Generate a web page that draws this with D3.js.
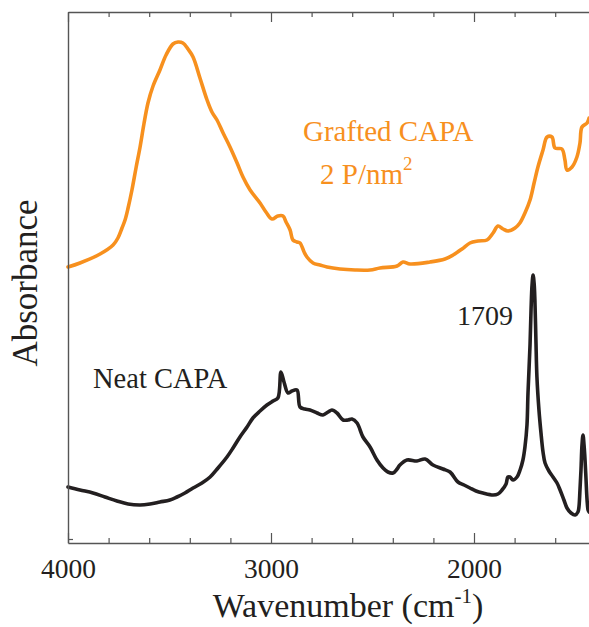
<!DOCTYPE html>
<html>
<head>
<meta charset="utf-8">
<script src="https://cdn.jsdelivr.net/npm/d3@7"></script>
<style>
  html, body { margin: 0; padding: 0; background: #fff; }
  svg { display: block; }
  svg text { font-family: "Liberation Serif", "Times New Roman", "DejaVu Serif", serif; }
</style>
</head>
<body>
<svg id="chart" width="589" height="627"></svg>
<script>
// ---- Data (wavenumber in cm^-1, absorbance in arbitrary units, offset spectra) ----
const graftedWavenumber = [4000, 3941, 3842, 3778, 3754, 3734, 3719, 3704, 3685, 3665, 3645, 3626, 3606, 3581, 3547, 3517, 3483, 3458, 3434, 3409, 3384, 3350, 3315, 3291, 3266, 3236, 3202, 3167, 3138, 3103, 3054, 3025, 2995, 2966, 2941, 2926, 2906, 2892, 2872, 2857, 2837, 2823, 2793, 2759, 2724, 2660, 2586, 2512, 2463, 2379, 2350, 2315, 2217, 2143, 2103, 2059, 2020, 1980, 1936, 1906, 1882, 1857, 1833, 1798, 1774, 1749, 1724, 1704, 1685, 1660, 1640, 1616, 1601, 1567, 1552, 1542, 1517, 1493, 1478, 1468, 1443, 1433];
const graftedAbsorbance = [2.76, 2.80, 2.89, 2.98, 3.05, 3.15, 3.23, 3.35, 3.53, 3.75, 3.96, 4.19, 4.40, 4.57, 4.73, 4.88, 4.99, 5.01, 5.00, 4.94, 4.86, 4.65, 4.43, 4.31, 4.23, 4.10, 3.96, 3.80, 3.66, 3.53, 3.40, 3.31, 3.24, 3.27, 3.27, 3.21, 3.13, 3.03, 3.01, 3.00, 2.91, 2.86, 2.80, 2.78, 2.76, 2.74, 2.73, 2.73, 2.75, 2.77, 2.81, 2.79, 2.81, 2.84, 2.88, 2.94, 3.00, 3.02, 3.03, 3.10, 3.17, 3.14, 3.12, 3.15, 3.20, 3.30, 3.43, 3.60, 3.76, 3.93, 4.06, 4.06, 3.95, 3.94, 3.83, 3.73, 3.76, 3.86, 4.00, 4.16, 4.20, 4.25];

const neatWavenumber = [4000, 3941, 3877, 3818, 3759, 3704, 3645, 3596, 3547, 3498, 3463, 3424, 3384, 3340, 3300, 3261, 3217, 3187, 3153, 3118, 3089, 3054, 3020, 2990, 2966, 2951, 2936, 2916, 2897, 2872, 2857, 2833, 2808, 2773, 2744, 2719, 2700, 2675, 2645, 2621, 2601, 2576, 2547, 2512, 2478, 2448, 2424, 2399, 2379, 2365, 2330, 2281, 2241, 2202, 2153, 2118, 2079, 2049, 2020, 1990, 1956, 1906, 1882, 1862, 1842, 1833, 1823, 1808, 1788, 1773, 1759, 1749, 1739, 1734, 1724, 1719, 1714, 1709, 1704, 1700, 1695, 1690, 1680, 1670, 1660, 1650, 1631, 1611, 1591, 1576, 1557, 1542, 1522, 1502, 1488, 1483, 1478, 1473, 1468, 1463, 1458, 1453, 1448, 1443, 1438, 1433];
const neatAbsorbance = [0.56, 0.53, 0.50, 0.46, 0.42, 0.39, 0.38, 0.39, 0.41, 0.43, 0.46, 0.50, 0.55, 0.60, 0.66, 0.75, 0.86, 0.95, 1.06, 1.16, 1.25, 1.32, 1.38, 1.42, 1.45, 1.71, 1.61, 1.50, 1.52, 1.53, 1.36, 1.34, 1.33, 1.30, 1.28, 1.31, 1.33, 1.30, 1.23, 1.23, 1.24, 1.20, 1.06, 0.96, 0.83, 0.75, 0.71, 0.70, 0.74, 0.78, 0.83, 0.82, 0.84, 0.78, 0.74, 0.71, 0.61, 0.58, 0.55, 0.52, 0.50, 0.48, 0.49, 0.53, 0.59, 0.66, 0.66, 0.63, 0.66, 0.73, 0.83, 0.96, 1.18, 1.50, 1.98, 2.33, 2.58, 2.68, 2.60, 2.43, 2.03, 1.66, 1.33, 1.10, 0.91, 0.80, 0.72, 0.66, 0.60, 0.53, 0.43, 0.35, 0.30, 0.28, 0.31, 0.36, 0.53, 0.73, 0.98, 1.08, 0.98, 0.83, 0.63, 0.43, 0.33, 0.31];

const majorTicks = [4000, 3000, 2000];
const minorTicks = [3800, 3600, 3400, 3200, 2800, 2600, 2400, 2200, 1800, 1600];
const majorTickLabels = ["4000", "3000", "2000"];

(function () {
  // ---- Layout ----
  const plotLeft = 68, plotTop = 12, plotBottom = 543;
  const pxPerUnit = 0.203;
  const x = d3.scaleLinear().domain([4000, 1400]).range([plotLeft, plotLeft + 2600 * pxPerUnit]);
  const y = d3.scaleLinear().domain([0, 5.31]).range([plotBottom, plotTop]);

  const svg = d3.select("#chart");
  const axisColor = "#555555";
  const serif = "'Liberation Serif', 'Times New Roman', serif";

  // Curves
  const line = d3.line().x(d => x(d[0])).y(d => y(d[1])).curve(d3.curveCatmullRom.alpha(0.5));
  const neat = neatWavenumber.map((w, i) => [w, neatAbsorbance[i]]);
  const grafted = graftedWavenumber.map((w, i) => [w, graftedAbsorbance[i]]);

  svg.append("path").datum(grafted)
    .attr("d", line).attr("fill", "none")
    .attr("stroke", "#F7901E").attr("stroke-width", 3.6)
    .attr("stroke-linejoin", "round").attr("stroke-linecap", "round");

  svg.append("path").datum(neat)
    .attr("d", line).attr("fill", "none")
    .attr("stroke", "#231F20").attr("stroke-width", 3.6)
    .attr("stroke-linejoin", "round").attr("stroke-linecap", "round");

  // Bottom axis: major ticks with labels
  const gBottom = svg.append("g").attr("transform", `translate(0,${plotBottom})`);
  gBottom.call(d3.axisBottom(x).tickValues(majorTicks)
    .tickFormat((d, i) => majorTickLabels[i]).tickSizeInner(-10).tickSizeOuter(0).tickPadding(15));
  gBottom.attr("font-family", serif);
  gBottom.append("g").call(d3.axisBottom(x).tickValues(minorTicks).tickFormat("").tickSizeInner(-5).tickSizeOuter(0))
    .select(".domain").remove();
  gBottom.selectAll("path.domain").attr("stroke", axisColor).attr("stroke-width", 1.4);
  gBottom.selectAll("line").attr("stroke", axisColor).attr("stroke-width", 1.2);
  gBottom.selectAll("text").attr("font-size", 27.5).attr("fill", "#231F20")
    .attr("font-family", serif);

  // Top border with inward ticks
  const gTop = svg.append("g").attr("transform", `translate(0,${plotTop})`);
  gTop.call(d3.axisTop(x).tickValues(majorTicks).tickFormat("").tickSizeInner(-10).tickSizeOuter(0));
  gTop.append("g").call(d3.axisTop(x).tickValues(minorTicks).tickFormat("").tickSizeInner(-5).tickSizeOuter(0))
    .select(".domain").remove();
  gTop.selectAll("path.domain").attr("stroke", axisColor).attr("stroke-width", 1.4);
  gTop.selectAll("line").attr("stroke", axisColor).attr("stroke-width", 1.2);

  // Left axis (no labels)
  const gLeft = svg.append("g").attr("transform", `translate(${plotLeft},0)`);
  gLeft.call(d3.axisLeft(y).tickValues([0.04]).tickFormat("").tickSizeInner(-5).tickSizeOuter(0));
  gLeft.selectAll("path.domain").attr("stroke", axisColor).attr("stroke-width", 1.4);
  gLeft.selectAll("line").attr("stroke", axisColor).attr("stroke-width", 1.2);

  // Axis titles
  const xTitle = svg.append("text").attr("x", 348).attr("y", 617)
    .attr("text-anchor", "middle").attr("font-size", 34).attr("fill", "#231F20");
  xTitle.append("tspan").text("Wavenumber (cm");
  xTitle.append("tspan").attr("font-size", 21).attr("dy", -14).text("-1");
  xTitle.append("tspan").attr("dy", 14).text(")");

  svg.append("text").attr("transform", "translate(37,283) rotate(-90)")
    .attr("text-anchor", "middle").attr("font-size", 35).attr("fill", "#231F20")
    .text("Absorbance");

  // Annotations
  svg.append("text").attr("x", 303).attr("y", 141).attr("font-size", 29)
    .attr("fill", "#F7901E").text("Grafted CAPA");
  const sub = svg.append("text").attr("x", 320).attr("y", 184).attr("font-size", 29).attr("fill", "#F7901E");
  sub.append("tspan").text("2 P/nm");
  sub.append("tspan").attr("font-size", 19).attr("dy", -14).text("2");

  svg.append("text").attr("x", 93).attr("y", 388).attr("font-size", 28.5)
    .attr("fill", "#231F20").text("Neat CAPA");

  svg.append("text").attr("x", 457).attr("y", 325).attr("font-size", 28)
    .attr("fill", "#231F20").text("1709");
})();
</script>
</body>
</html>
